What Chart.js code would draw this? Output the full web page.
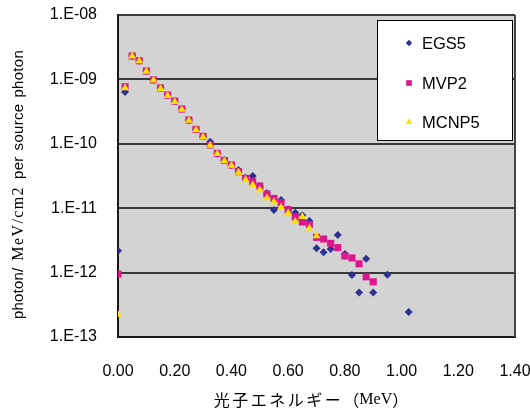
<!DOCTYPE html>
<html>
<head>
<meta charset="utf-8">
<script src="https://cdn.jsdelivr.net/npm/chart.js@4/dist/chart.umd.min.js"></script>
<style>
  html, body { margin: 0; padding: 0; background: #ffffff; }
  #wrap { width: 530px; height: 408px; }
</style>
</head>
<body>
<div id="wrap"><canvas id="c" width="530" height="408"></canvas></div>
<script>
// Photon energy bins (MeV)
const energy = [0, 0.025, 0.05, 0.075, 0.1, 0.125, 0.15, 0.175, 0.2, 0.225,
  0.25, 0.275, 0.3, 0.325, 0.35, 0.375, 0.4, 0.425, 0.45, 0.475,
  0.5, 0.525, 0.55, 0.575, 0.6, 0.625, 0.65, 0.675, 0.7, 0.725,
  0.75, 0.775, 0.8, 0.825, 0.85, 0.875, 0.9, 0.925, 0.95, 0.975,
  1.0, 1.025];

// Flux per source photon (photon / MeV / cm2); null = no tally in that bin
const egs5 = [2.19e-12, 6.4e-10, 2.31e-9, 1.95e-9, 1.35e-9, 9.9e-10, 7.4e-10, 5.8e-10, 4.6e-10, 3.5e-10,
  2.35e-10, 1.68e-10, 1.31e-10, 1.08e-10, 7.1e-11, 5.6e-11, 4.7e-11, 3.92e-11, 2.95e-11, 3.16e-11,
  2.2e-11, 1.70e-11, 9.4e-12, 1.34e-11, 9.6e-12, 8.5e-12, 7.8e-12, 6.3e-12, 2.38e-12, 2.07e-12,
  2.32e-12, 3.84e-12, 1.95e-12, 9.2e-13, 4.9e-13, 1.64e-12, 4.9e-13, null, 9.3e-13, null,
  null, 2.44e-13];

const mvp2 = [9.5e-13, 7.7e-10, 2.31e-9, 1.95e-9, 1.35e-9, 9.8e-10, 7.35e-10, 5.7e-10, 4.6e-10, 3.47e-10,
  2.34e-10, 1.67e-10, 1.30e-10, 9.6e-11, 7.1e-11, 5.5e-11, 4.7e-11, 3.69e-11, 2.91e-11, 2.58e-11,
  2.21e-11, 1.66e-11, 1.42e-11, 1.22e-11, 9.5e-12, 7.3e-12, 6.1e-12, 5.6e-12, 3.53e-12, 3.33e-12,
  2.85e-12, 2.44e-12, 1.81e-12, 1.69e-12, 1.37e-12, 8.6e-13, 7.2e-13, null, null, null,
  null, null];

const mcnp5 = [2.23e-13, 7.35e-10, 2.3e-9, 1.93e-9, 1.33e-9, 9.7e-10, 7.2e-10, 5.6e-10, 4.5e-10, 3.4e-10,
  2.3e-10, 1.64e-10, 1.27e-10, 9.4e-11, 7.0e-11, 5.4e-11, 4.6e-11, 3.6e-11, 2.75e-11, 2.29e-11,
  1.92e-11, 1.44e-11, 1.25e-11, 1.03e-11, 8.4e-12, 6.2e-12, 7.4e-12, 4.9e-12, 3.7e-12, null,
  null, null, null, null, null, null, null, null, null, null,
  null, null];

const xTicks = [0, 0.2, 0.4, 0.6, 0.8, 1.0, 1.2, 1.4];
const yTicks = [1e-13, 1e-12, 1e-11, 1e-10, 1e-9, 1e-8];

const seriesNames = ['EGS5', 'MVP2', 'MCNP5'];

const LATIN = "'Liberation Sans', Arial, sans-serif";
const SERIF = "'Liberation Serif', 'Times New Roman', serif";
const CJK = "'Noto Sans CJK JP', 'Liberation Sans', sans-serif";

// Axis titles as runs of differently styled text
const xTitleRuns = [
  { text: '光子エネルギー', font: '16px ' + CJK, spacing: 2.5 },
  { text: '（', font: '16px ' + CJK, spacing: 0 },
  { text: 'MeV', font: '16px ' + SERIF, spacing: 0 },
  { text: '）', font: '16px ' + CJK, spacing: 0 }
];
const yTitleRuns = [
  { text: 'photon/', font: '15px ' + LATIN, spacing: 0.2 },
  { text: ' ', gap: 7 },
  { text: 'MeV/cm2', font: '16px ' + SERIF, spacing: 1.4 },
  { text: ' ', gap: 7 },
  { text: 'per', font: '15px ' + LATIN, spacing: 0.3 },
  { text: ' ', gap: 6 },
  { text: 'source', font: '15px ' + LATIN, spacing: 0.3 },
  { text: ' ', gap: 6 },
  { text: 'photon', font: '15px ' + LATIN, spacing: 0.3 }
];

function toPoints(values) {
  const pts = [];
  energy.forEach((e, i) => {
    if (values[i] !== null) pts.push({ x: e, y: values[i] });
  });
  return pts;
}

function runsWidth(ctx, runs) {
  let w = 0;
  runs.forEach(r => {
    if (r.gap !== undefined) { w += r.gap; return; }
    ctx.font = r.font;
    for (const ch of r.text) w += ctx.measureText(ch).width + r.spacing;
  });
  return w;
}

function drawRuns(ctx, runs, x0, y0) {
  let x = x0;
  ctx.textBaseline = 'middle';
  ctx.textAlign = 'left';
  ctx.fillStyle = '#000000';
  runs.forEach(r => {
    if (r.gap !== undefined) { x += r.gap; return; }
    ctx.font = r.font;
    for (const ch of r.text) {
      ctx.fillText(ch, x, y0);
      x += ctx.measureText(ch).width + r.spacing;
    }
  });
}

// Grey plot area, its outer frame and the axis titles
const plotFrame = {
  id: 'plotFrame',
  beforeDraw(chart) {
    const { ctx, chartArea: a } = chart;
    ctx.save();
    ctx.fillStyle = '#d3d3d3';
    ctx.fillRect(a.left, a.top, a.right - a.left, a.bottom - a.top);
    ctx.restore();
  },
  afterDatasetsDraw(chart) {
    const { ctx, chartArea: a } = chart;
    ctx.save();
    ctx.strokeStyle = '#454545';
    ctx.lineWidth = 2;
    ctx.beginPath();
    ctx.moveTo(a.right, a.top);
    ctx.lineTo(a.right, a.bottom);
    ctx.stroke();
    ctx.restore();
  },
  afterDraw(chart) {
    const { ctx, chartArea: a } = chart;
    ctx.save();
    const xLen = runsWidth(ctx, xTitleRuns);
    drawRuns(ctx, xTitleRuns, 311 - xLen / 2, 400);
    const len = runsWidth(ctx, yTitleRuns);
    const mid = (32 + a.bottom) / 2;
    ctx.translate(19, mid + len / 2);
    ctx.rotate(-Math.PI / 2);
    drawRuns(ctx, yTitleRuns, 0, 0);
    ctx.restore();
  }
};

function drawMarker(ctx, style, x, y, r, color) {
  ctx.fillStyle = color;
  ctx.beginPath();
  if (style === 'rectRot') {
    ctx.moveTo(x - r, y); ctx.lineTo(x, y - r); ctx.lineTo(x + r, y); ctx.lineTo(x, y + r);
  } else if (style === 'rect') {
    const s = r * Math.SQRT1_2;
    ctx.rect(x - s, y - s, 2 * s, 2 * s);
  } else {
    ctx.moveTo(x, y - r);
    ctx.lineTo(x + r * Math.cos(Math.PI / 6), y + r * 0.5);
    ctx.lineTo(x - r * Math.cos(Math.PI / 6), y + r * 0.5);
  }
  ctx.closePath();
  ctx.fill();
}

// Boxed legend inside the plot's upper-right corner
const boxLegend = {
  id: 'boxLegend',
  afterDraw(chart) {
    const { ctx } = chart;
    const bx = 377.5, by = 20.5, bw = 135, bh = 120;
    ctx.save();
    ctx.fillStyle = '#ffffff';
    ctx.fillRect(bx, by, bw, bh);
    ctx.strokeStyle = '#000000';
    ctx.lineWidth = 1;
    ctx.strokeRect(bx, by, bw, bh);
    const rows = [43, 83, 122];
    const sizes = [3.2, 4, 3.8];
    seriesNames.forEach((name, i) => {
      const ds = chart.data.datasets.find(d => d.label === name);
      drawMarker(ctx, ds.pointStyle, 409, rows[i], sizes[i], ds.backgroundColor);
      ctx.fillStyle = '#000000';
      ctx.font = '16.5px ' + LATIN;
      ctx.textBaseline = 'middle';
      ctx.textAlign = 'left';
      ctx.fillText(name, 422, rows[i] + 1);
    });
    ctx.restore();
  }
};

new Chart(document.getElementById('c'), {
  type: 'scatter',
  data: {
    datasets: [
      { label: seriesNames[0], data: toPoints(egs5), pointStyle: 'rectRot', pointRadius: 4,
        backgroundColor: '#2e3192', borderWidth: 0, order: 3 },
      { label: seriesNames[1], data: toPoints(mvp2), pointStyle: 'rect', pointRadius: 5,
        backgroundColor: '#dc168c', borderWidth: 0, order: 2 },
      { label: seriesNames[2], data: toPoints(mcnp5), pointStyle: 'triangle', pointRadius: 4.6,
        backgroundColor: '#ffe200', borderWidth: 0, order: 1 }
    ]
  },
  options: {
    responsive: false,
    animation: false,
    devicePixelRatio: 1,
    layout: { padding: { top: 15, right: 15, bottom: 0, left: 0 } },
    plugins: {
      legend: { display: false },
      tooltip: { enabled: false }
    },
    elements: { point: { hoverRadius: 4 } },
    scales: {
      x: {
        type: 'linear',
        min: 0,
        max: 1.4,
        afterBuildTicks: s => { s.ticks = xTicks.map(v => ({ value: v })); },
        afterFit: s => { s.height = 71; s.paddingLeft = 0; s.paddingRight = 0; },
        ticks: {
          callback: v => Number(v).toFixed(2),
          font: { family: LATIN, size: 16 },
          color: '#000000',
          padding: 25,
          maxRotation: 0
        },
        grid: { display: false, drawTicks: false },
        border: { display: true, color: '#1a1a1a', width: 2 },
        title: { display: false }
      },
      y: {
        type: 'logarithmic',
        min: 1e-13,
        max: 1e-8,
        afterBuildTicks: s => { s.ticks = yTicks.map(v => ({ value: v })); },
        afterFit: s => { s.width = 118; s.paddingTop = 0; s.paddingBottom = 0; },
        ticks: {
          callback: v => {
            const e = Math.round(Math.log10(v));
            return '1.E-' + String(-e).padStart(2, '0');
          },
          font: { family: LATIN, size: 16 },
          color: '#000000',
          padding: 21
        },
        grid: { color: '#3a3a3a', lineWidth: 2, drawTicks: false },
        border: { display: true, color: '#1a1a1a', width: 2 },
        title: { display: false }
      }
    }
  },
  plugins: [plotFrame, boxLegend]
});
</script>
</body>
</html>
